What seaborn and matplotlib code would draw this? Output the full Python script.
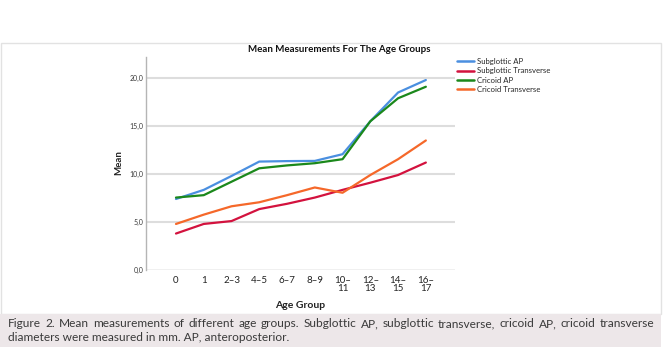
import numpy as np
import matplotlib
matplotlib.use("Agg")
import matplotlib.pyplot as plt
from matplotlib.patches import Rectangle
import seaborn as sns
import pandas as pd

age_groups = ["0", "1", "2–3", "4–5", "6–7", "8–9", "10–11", "12–13", "14–15", "16–17"]
age_tick_labels = ["0", "1", "2–3", "4–5", "6–7", "8–9", "10–\n11", "12–\n13", "14–\n15", "16–\n17"]

subglottic_ap = [7.4, 8.35, 9.8, 11.3, 11.35, 11.37, 12.07, 15.5, 18.5, 19.8]
subglottic_transverse = [3.8, 4.8, 5.1, 6.35, 6.9, 7.55, 8.35, 9.1, 9.9, 11.2]
cricoid_ap = [7.55, 7.8, 9.2, 10.6, 10.9, 11.13, 11.55, 15.5, 17.9, 19.1]
cricoid_transverse = [4.8, 5.77, 6.64, 7.06, 7.8, 8.6, 8.05, 9.9, 11.55, 13.5]

series_names = ["Subglottic AP", "Subglottic Transverse", "Cricoid AP", "Cricoid Transverse"]
series_values = [subglottic_ap, subglottic_transverse, cricoid_ap, cricoid_transverse]
colors = {"Subglottic AP": "#4a8fe0", "Subglottic Transverse": "#d3123e",
          "Cricoid AP": "#1b881b", "Cricoid Transverse": "#f5682a"}

y_ticks = [0, 5, 10, 15, 20]

caption_line1 = ("Figure 2. Mean measurements of different age groups. Subglottic AP, subglottic "
                 "transverse, cricoid AP, cricoid transverse")
caption_line2 = "diameters were measured in mm. AP, anteroposterior."

# long form table for seaborn
rows = []
for name, vals in zip(series_names, series_values):
    for g, v in zip(age_groups, vals):
        rows.append({"Age Group": g, "Mean": v, "Series": name})
df = pd.DataFrame(rows)
df["pos"] = df["Age Group"].map({g: i for i, g in enumerate(age_groups)})

sns.set_style("white")
plt.rcParams["font.family"] = ["Lato", "DejaVu Sans"]

W, H = 668, 358
fig = plt.figure(figsize=(W / 100, H / 100), dpi=100)

# outer frame and caption box (figure pixel coords)
frame = Rectangle((1 / W, 1 - 314 / H), 660 / W, (314 - 43) / H, transform=fig.transFigure,
                  facecolor="white", edgecolor="#e2e2e2", linewidth=1.0, zorder=-5)
fig.patches.append(frame)
cap_box = Rectangle((0, 1 - 347 / H), 661 / W, 33 / H, transform=fig.transFigure,
                    facecolor="#ede7e9", edgecolor="none", zorder=-4)
fig.patches.append(cap_box)

ax = fig.add_axes([146 / W, 1 - 270 / H, (455 - 146) / W, (270 - 57) / H])
ax.set_zorder(2)
ax.set_facecolor("none")
sns.lineplot(data=df, x="pos", y="Mean", hue="Series", palette=colors, hue_order=series_names,
             sort=False, linewidth=1.6, ax=ax, legend=False)

ax.set_xlim(-1.08, 10.05)
ax.set_ylim(0, 22.2)
ax.set_yticks(y_ticks)
ax.set_yticklabels([f"{t:.1f}".replace(".", ",") for t in y_ticks], fontsize=5, color="#3a3a3a")
ax.set_xticks(range(len(age_groups)))
ax.set_xticklabels(age_tick_labels, fontsize=7, color="#222222", linespacing=0.95, va="top")
ax.tick_params(axis="both", length=0, pad=2)
ax.tick_params(axis="x", pad=4)
for t in y_ticks[1:]:
    ax.axhline(t, color="#dddddd", linewidth=1.5, zorder=0)
ax.axhline(0, color="#b5b5b5", linewidth=1.0, zorder=1)
for s in ["top", "right", "bottom"]:
    ax.spines[s].set_visible(False)
ax.spines["left"].set_color("#b5b5b5")
ax.spines["left"].set_linewidth(1.0)
ax.set_xlabel("")
ax.set_ylabel("")

fig.text(119 / W, 1 - 163 / H, "Mean", rotation=90, ha="center", va="center",
         fontsize=7, fontweight="bold", color="#222222")
fig.text(300 / W, 1 - 306 / H, "Age Group", ha="center", va="center",
         fontsize=7.5, fontweight="bold", color="#222222")
fig.text(339 / W, 1 - 49 / H, "Mean Measurements For The Age Groups", ha="center", va="center",
         fontsize=7, fontweight="bold", color="#111111")

# legend
handles = [plt.Line2D([], [], color=colors[n], linewidth=1.8) for n in series_names]
fig.legend(handles, series_names, loc="upper left", bbox_to_anchor=(454 / W, 1 - 55 / H),
           frameon=False, fontsize=5.6, handlelength=2.2, handletextpad=0.3,
           labelspacing=0.3, borderaxespad=0)

# caption, first line justified
cap_kw = dict(fontsize=8.6, color="#3a3a3a", va="baseline", family=["Lato", "DejaVu Sans"])
renderer = fig.canvas.get_renderer()
words = caption_line1.split(" ")
texts = [fig.text(0, 1 - 327 / H, w, **cap_kw) for w in words]
widths = [t.get_window_extent(renderer).width for t in texts]
left_px, right_px = 8, 654
gap = (right_px - left_px - sum(widths)) / (len(words) - 1)
x = left_px
for t, w in zip(texts, widths):
    t.set_x(x / W)
    x += w + gap
fig.text(8 / W, 1 - 341 / H, caption_line2, **cap_kw)

fig.savefig("out.png", dpi=100)
